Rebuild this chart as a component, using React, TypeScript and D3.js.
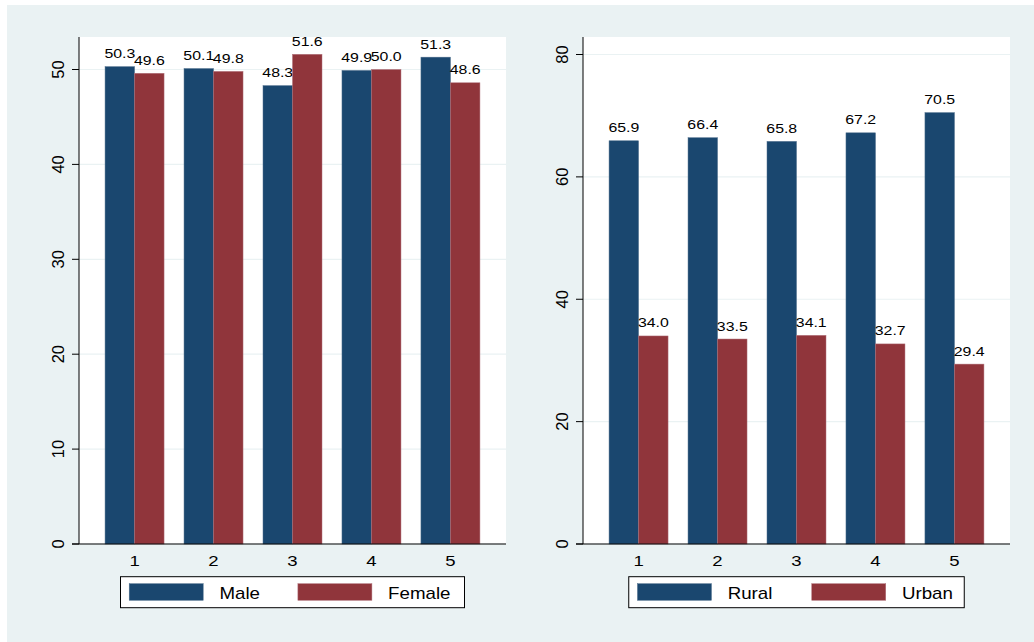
import React from "react";
import * as d3 from "d3";

const categories = ["1", "2", "3", "4", "5"];
const genderSeries = ["Male", "Female"];
const maleValues = [50.3, 50.1, 48.3, 49.9, 51.3];
const femaleValues = [49.6, 49.8, 51.6, 50.0, 48.6];
const areaSeries = ["Rural", "Urban"];
const ruralValues = [65.9, 66.4, 65.8, 67.2, 70.5];
const urbanValues = [34.0, 33.5, 34.1, 32.7, 29.4];
const leftTicks = [0, 10, 20, 30, 40, 50];
const rightTicks = [0, 20, 40, 60, 80];

const NAVY = "#1a476f";
const MAROON = "#90353b";
const BG = "#eaf2f3";
const FONT = "'Liberation Sans', Arial, Helvetica, sans-serif";

const W = 1034;
const H = 642;
const PLOT_TOP = 37;
const BASE = 544;

type PanelProps = {
  x0: number;
  x1: number;
  series: string[];
  values: number[][];
  ticks: number[];
  topTick: number;
  topTickY: number;
  legendWidth: number;
  legendCol1: number;
};

function Panel({ x0, x1, series, values, ticks, topTick, topTickY, legendWidth, legendCol1 }: PanelProps) {
  const y = d3.scaleLinear().domain([0, topTick]).range([BASE, topTickY]);
  const xOuter = d3
    .scaleBand<string>()
    .domain(categories)
    .range([x0, x1])
    .paddingInner(0.253)
    .paddingOuter(0.33);
  const xInner = d3
    .scaleBand<string>()
    .domain(series)
    .range([0, xOuter.bandwidth()])
    .padding(0);
  const colors = d3.scaleOrdinal<string, string>().domain(series).range([NAVY, MAROON]);

  const cx = (x0 + x1) / 2;
  const lbx = cx - legendWidth / 2;
  const ly0 = 576.7;
  const ly1 = 607.7;
  const keyX = [lbx + 8.7, lbx + legendCol1];

  return (
    <g>
      <rect x={x0} y={PLOT_TOP} width={x1 - x0} height={BASE - PLOT_TOP} fill="#ffffff" />
      {ticks.map((t) => (
        <line key={"g" + t} x1={x0} x2={x1} y1={y(t)} y2={y(t)} stroke={BG} strokeWidth={1.2} />
      ))}
      {categories.map((c, ci) =>
        series.map((s, si) => {
          const v = values[si][ci];
          const bx = (xOuter(c) as number) + (xInner(s) as number);
          const bw = xInner.bandwidth();
          return (
            <g key={c + s}>
              <rect
                x={bx}
                y={y(v)}
                width={bw}
                height={BASE - y(v)}
                fill={colors(s)}
                stroke={si === 0 ? "#4f6f8c" : "#b0707a"}
                strokeWidth={0.5}
              />
              <text
                transform={`translate(${bx + bw / 2},${y(v) - 8.5}) scale(1.24,1)`}
                textAnchor="middle"
                fontSize={12.8}
                fontFamily={FONT}
                fill="#000"
              >
                {v.toFixed(1)}
              </text>
            </g>
          );
        })
      )}
      <line x1={x0} x2={x0} y1={PLOT_TOP} y2={BASE} stroke="#000" strokeWidth={1} />
      <line x1={x0 - 7} x2={x1} y1={BASE} y2={BASE} stroke="#000" strokeWidth={1} />
      {ticks.map((t) => (
        <g key={"t" + t}>
          <line x1={x0 - 7} x2={x0} y1={y(t)} y2={y(t)} stroke="#000" strokeWidth={1} />
          <text
            transform={`translate(${x0 - 21},${y(t)}) rotate(-90)`}
            textAnchor="middle"
            dy="0.36em"
            fontSize={16.5}
            fontFamily={FONT}
            fill="#000"
          >
            {t}
          </text>
        </g>
      ))}
      {categories.map((c) => (
        <text
          key={"x" + c}
          transform={`translate(${(xOuter(c) as number) + xOuter.bandwidth() / 2},565.7) scale(1.28,1)`}
          textAnchor="middle"
          fontSize={14.5}
          fontFamily={FONT}
          fill="#000"
        >
          {c}
        </text>
      ))}
      <rect x={lbx} y={ly0} width={legendWidth} height={ly1 - ly0} fill="#fff" stroke="#000" strokeWidth={1} />
      {series.map((s, si) => (
        <g key={"l" + s}>
          <rect x={keyX[si]} y={583.7} width={74} height={16.6} fill={colors(s)} stroke={si === 0 ? "#4f6f8c" : "#b0707a"} strokeWidth={0.5} />
          <text
            transform={`translate(${keyX[si] + 74 + 16.2},599) scale(1.17,1)`}
            fontSize={16}
            fontFamily={FONT}
            fill="#000"
          >
            {s}
          </text>
        </g>
      ))}
    </g>
  );
}

export default function App() {
  return (
    <svg
      width={W}
      height={H}
      style={{ position: "absolute", left: 0, top: 0, display: "block" }}
      xmlns="http://www.w3.org/2000/svg"
    >
      <rect x={0} y={0} width={W} height={H} fill="#ffffff" />
      <rect x={7} y={5} width={W - 7} height={H - 5} fill={BG} />
      <Panel
        x0={79}
        x1={506}
        series={genderSeries}
        values={[maleValues, femaleValues]}
        ticks={leftTicks}
        topTick={50}
        topTickY={69.5}
        legendWidth={344}
        legendCol1={177.4}
      />
      <Panel
        x0={583}
        x1={1010}
        series={areaSeries}
        values={[ruralValues, urbanValues]}
        ticks={rightTicks}
        topTick={80}
        topTickY={54.5}
        legendWidth={335.5}
        legendCol1={183}
      />
    </svg>
  );
}
